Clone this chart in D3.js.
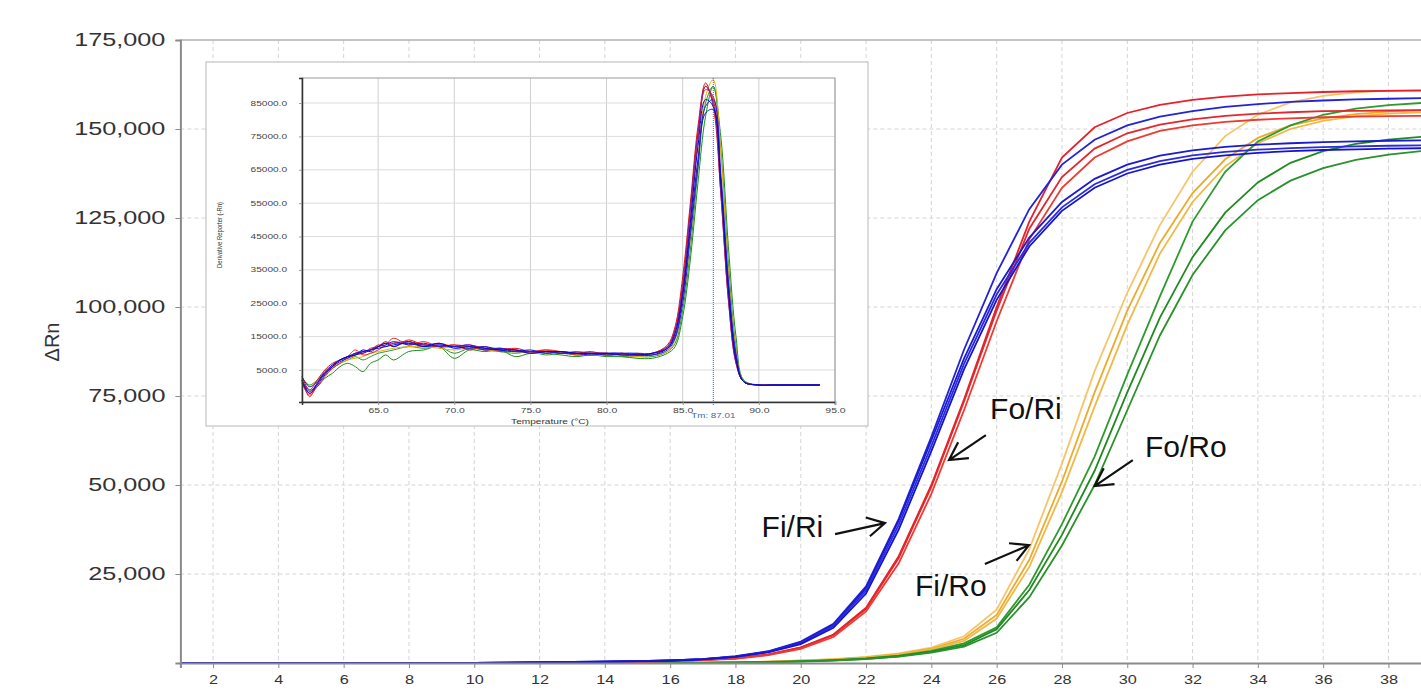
<!DOCTYPE html>
<html>
<head>
<meta charset="utf-8">
<script src="https://cdn.jsdelivr.net/npm/d3@7"></script>
<style>
  body { margin: 0; background: #fff; }
  svg { display: block; font-family: Arial, 'Liberation Sans', sans-serif; }
</style>
</head>
<body>
<div class="main-content"></div>
<script>
// amplification plot: cycle vs delta Rn
var cycles = d3.range(1, 41)
var fiRi1 = [0, 0, 0, 0, 0, 0, 0, 0, 0, 0, 100, 200, 300, 400, 500, 700, 1100, 1900, 3300, 6000,
  11000, 21500, 40500, 63500, 88000, 109500, 127500, 140000, 147000, 151000,
  153500, 155000, 156200, 157000, 157600, 158000, 158300, 158500, 158700, 158800]
var fiRi2 = [0, 0, 0, 0, 0, 0, 0, 0, 0, 0, 100, 200, 300, 400, 500, 700, 1100, 1800, 3200, 5800,
  10800, 21000, 40000, 62500, 85500, 105000, 119500, 129500, 136000, 140000,
  142500, 144000, 145000, 145600, 146000, 146300, 146500, 146700, 146800, 146900]
var fiRi3 = [0, 0, 0, 0, 0, 0, 0, 0, 0, 0, 100, 200, 300, 400, 500, 700, 1100, 1800, 3100, 5600,
  10400, 20300, 38800, 61000, 84000, 103500, 118000, 128000, 134500, 138500,
  141000, 142600, 143600, 144200, 144600, 144900, 145100, 145300, 145400, 145500]
var fiRi4 = [0, 0, 0, 0, 0, 0, 0, 0, 0, 0, 100, 150, 250, 350, 450, 650, 1000, 1700, 3000, 5300,
  9900, 19500, 37500, 59500, 82500, 102000, 117000, 127000, 133500, 137500,
  140000, 141600, 142600, 143300, 143800, 144100, 144300, 144500, 144600, 144700]
var foRi1 = [0, 0, 0, 0, 0, 0, 0, 0, 0, 0, 50, 100, 200, 300, 400, 550, 850, 1300, 2400, 4400,
  8000, 15500, 30000, 50000, 74000, 100000, 124000, 142000, 150500, 154500,
  156800, 158200, 159100, 159700, 160100, 160400, 160600, 160700, 160800, 160900]
var foRi2 = [0, 0, 0, 0, 0, 0, 0, 0, 0, 0, 50, 100, 200, 300, 400, 550, 850, 1300, 2300, 4300,
  7800, 15200, 29500, 49500, 73500, 99000, 122000, 136500, 144500, 148800,
  151200, 152700, 153700, 154300, 154700, 155000, 155100, 155200, 155300, 155400]
var foRi3 = [0, 0, 0, 0, 0, 0, 0, 0, 0, 0, 50, 100, 150, 250, 350, 500, 800, 1200, 2200, 4000,
  7300, 14500, 28000, 47500, 71000, 96000, 119000, 133500, 142000, 146500,
  149500, 151000, 152000, 152600, 153000, 153300, 153500, 153600, 153700, 153800]
var fiRo1 = [0, 0, 0, 0, 0, 0, 0, 0, 0, 0, 0, 0, 0, 0, 0, 50, 100, 200, 400, 700,
  1100, 1700, 2700, 4300, 7500, 15000, 32000, 56000, 82000, 104000,
  123000, 138000, 148000, 154000, 157500, 159300, 160300, 160800, 161000, 161200]
var fiRo2 = [0, 0, 0, 0, 0, 0, 0, 0, 0, 0, 0, 0, 0, 0, 0, 50, 100, 200, 350, 650,
  1000, 1600, 2500, 4000, 6800, 13500, 29000, 51000, 76000, 99000,
  118000, 132000, 141500, 147500, 151000, 153000, 154200, 154900, 155300, 155500]
var fiRo3 = [0, 0, 0, 0, 0, 0, 0, 0, 0, 0, 0, 0, 0, 0, 0, 50, 100, 150, 300, 600,
  950, 1500, 2400, 3800, 6200, 12500, 27000, 48000, 72000, 95000,
  115000, 129500, 139500, 146000, 150000, 152300, 153600, 154300, 154700, 155000]
var foRo1 = [0, 0, 0, 0, 0, 0, 0, 0, 0, 0, 0, 0, 0, 0, 0, 0, 100, 150, 300, 500,
  800, 1300, 2100, 3400, 5500, 10000, 22000, 39000, 58000, 81000,
  103000, 124000, 138000, 146500, 151000, 154000, 155700, 156700, 157300, 157700]
var foRo2 = [0, 0, 0, 0, 0, 0, 0, 0, 0, 0, 0, 0, 0, 0, 0, 0, 50, 100, 250, 450,
  750, 1200, 1900, 3100, 5000, 9500, 20500, 36000, 54000, 76000,
  97000, 114000, 126500, 135000, 140500, 143800, 145800, 147000, 147800, 148300]
var foRo3 = [0, 0, 0, 0, 0, 0, 0, 0, 0, 0, 0, 0, 0, 0, 0, 0, 50, 100, 200, 400,
  700, 1100, 1800, 2900, 4600, 8500, 18500, 33000, 50000, 71000,
  92000, 109000, 121500, 130000, 135500, 139000, 141300, 142800, 143800, 144500]
var ampSeries = [fiRo1, fiRo2, fiRo3, foRo1, foRo2, foRo3, foRi1, foRi2, foRi3, fiRi1, fiRi2, fiRi3, fiRi4]
var ampColors = ['#f7c46a', '#eeaa2a', '#f0b848', '#2e9a2e', '#1f8a1f', '#2a922a',
  '#e8202a', '#e0282e', '#ee3a30', '#2222d8', '#1a1ad0', '#2a2ae0', '#1515c8']
var yTicks = [25000, 50000, 75000, 100000, 125000, 150000, 175000]
var xTicks = [2, 4, 6, 8, 10, 12, 14, 16, 18, 20, 22, 24, 26, 28, 30, 32, 34, 36, 38]

// annotations (data coordinates)
var annoLabels = ['Fo/Ri', 'Fi/Ri', 'Fi/Ro', 'Fo/Ro']
var annoTextCycle = [25.8, 18.8, 23.5, 30.54]
var annoTextValue = [68600, 35400, 18800, 57900]
var arrowFromCycle = [25.67, 21.05, 25.64, 30.17]
var arrowFromValue = [64000, 36200, 27800, 57000]
var arrowToCycle = [24.54, 22.58, 26.99, 29.0]
var arrowToValue = [57000, 39300, 33100, 49700]

// inset: melt curve, derivative reporter (thousands) vs temperature
var temps = [60, 60.5, 61, 61.5, 62, 62.5, 63, 63.5, 64, 64.5, 65, 65.5,
  66, 67, 68, 69, 70, 71, 72, 73, 74, 75, 76, 77, 78, 79, 80, 81, 82, 83, 84,
  84.5, 85, 85.5, 86, 86.5, 87, 87.5, 88, 88.5, 89, 90, 91, 92, 93, 94]
var meltRed1 = [2, -3, 1, 4, 6, 8, 8.5, 9.5, 10, 11.5, 12, 13.5,
  12, 14, 12.5, 13, 12, 12.5, 11.5, 11, 11.5, 10.5, 10.5, 10, 10.5, 10, 10, 9.5, 10, 10, 12.5,
  18, 33, 55, 78, 91, 84, 58, 26, 7, 1.5, 0.5, 0.5, 0.5, 0.5, 0.5]
var meltRed2 = [3, -1, 2, 5, 7, 8, 9, 10, 10.5, 11, 12.5, 12,
  13, 13.5, 12.5, 12, 12.5, 12, 11, 11.5, 11, 10.5, 11, 10, 10, 10.5, 9.5, 10, 9.5, 10, 12,
  17, 31, 53, 76, 90, 86, 60, 28, 8, 1.5, 0.5, 0.5, 0.5, 0.5, 0.5]
var meltRed3 = [1, -2.5, 0, 3, 5.5, 7, 9, 11, 9.5, 10, 11, 12.5,
  14.5, 12.5, 13.5, 12, 12.5, 11, 12, 10.5, 11, 10, 11, 10.5, 9.5, 10, 10, 9.5, 9.5, 10, 11.5,
  16, 29, 50, 74, 89, 87, 62, 30, 9, 1.5, 0.5, 0.5, 0.5, 0.5, 0.5]
var meltBlue1 = [3, 0, 1.5, 4.5, 6.5, 8, 9, 9.5, 10.5, 11, 11.5, 12,
  12.5, 13, 12, 12.5, 12, 11.5, 12, 11, 10.5, 11, 10, 10.5, 10, 9.5, 10, 10, 9.5, 9.5, 11.5,
  15, 27, 47, 68, 82, 83, 62, 30, 9, 1.5, 0.5, 0.5, 0.5, 0.5, 0.5]
var meltBlue2 = [2, -1.5, 1, 4, 6, 7.5, 8.5, 10, 10, 11, 12, 12.5,
  13.5, 12.5, 13, 12, 12, 12.5, 11, 11.5, 10.5, 10.5, 10.5, 10, 10, 10, 9.5, 10, 10, 9.5, 11,
  14.5, 25, 45, 66, 84, 86, 64, 32, 10, 1.5, 0.5, 0.5, 0.5, 0.5, 0.5]
var meltBlue3 = [1.5, -2, 0.5, 3.5, 6, 8, 9, 9.5, 11, 10.5, 12, 13,
  12, 13.5, 12, 13, 11.5, 12, 11.5, 11, 11, 10, 10.5, 10.5, 10, 10, 10, 9.5, 9.5, 10, 11.5,
  16, 28, 49, 72, 86, 84, 61, 29, 8, 1.5, 0.5, 0.5, 0.5, 0.5, 0.5]
var meltGreen1 = [2, -1, 0, 2.5, 4, 6, 7, 6, 4.5, 7, 8, 9.5,
  8, 10.5, 11, 12, 8.5, 11, 10.5, 11, 9, 10, 10, 9.5, 9, 9.5, 9, 9, 8.5, 8.5, 10,
  12, 21, 38, 61, 81, 90, 75, 42, 15, 2, 0.5, 0.5, 0.5, 0.5, 0.5]
var meltGreen2 = [2.5, 0.5, 2, 4, 5.5, 7, 8, 9, 8, 9, 10, 10.5,
  11, 12, 11.5, 12, 10, 11.5, 11, 10.5, 10, 10.5, 9.5, 10, 9.5, 9.5, 9.5, 9, 9, 9, 10.5,
  13, 23, 41, 65, 85, 90, 71, 37, 12, 1.5, 0.5, 0.5, 0.5, 0.5, 0.5]
var meltOrange = [3, 0, 2, 4.5, 6, 7, 8, 8.5, 9, 10, 10.5, 11,
  11.5, 12, 12, 11.5, 11, 11.5, 11, 10.5, 10.5, 10, 10, 10, 10, 9.5, 9.5, 9.5, 9, 9.5, 10.5,
  14, 25, 44, 68, 87, 92, 70, 34, 11, 1.5, 0.5, 0.5, 0.5, 0.5, 0.5]
var meltPurple = [2, -2, 1, 4, 6.5, 8, 9, 10, 10.5, 11, 12, 13,
  13, 13, 12.5, 12.5, 12, 12, 11.5, 11.5, 11, 10.5, 10.5, 10.5, 10, 10, 10, 10, 9.5, 10, 12,
  17, 30, 53, 76, 90, 85, 58, 26, 7, 1.5, 0.5, 0.5, 0.5, 0.5, 0.5]
var meltSeries = [meltGreen1, meltGreen2, meltOrange, meltRed1, meltRed2, meltRed3, meltPurple, meltBlue1, meltBlue2, meltBlue3]
var meltColors = ['#1a8f1a', '#2a9a2a', '#e8b010', '#e01010', '#d81818', '#f02020', '#7a1fa0', '#1010e0', '#2020d0', '#0a0ac0']
var meltYTicks = [5, 15, 25, 35, 45, 55, 65, 75, 85]
var meltXTicks = [65, 70, 75, 80, 85, 90, 95]
var tmValue = 87.01

const svgWidth = 1421
const svgHeight = 692
const plotLeft = 180.4
const plotTop = 40
const plotBottom = 663
const cycleWidth = 32.65
const insetBox = { left: 206, top: 62, right: 868, bottom: 426 }
const insetPlot = { left: 302, top: 78, right: 835, bottom: 402 }

var svg = d3.select('.main-content')
  .append('svg')
  .attr('width', svgWidth)
  .attr('height', svgHeight)

var x = d3.scaleLinear().domain([1, 40]).range([plotLeft, plotLeft + 39 * cycleWidth])
var y = d3.scaleLinear().domain([0, 175000]).range([plotBottom, plotTop])

function stretchText(sel, factor) {
  sel.each(function() {
    var w = this.getComputedTextLength()
    d3.select(this).attr('textLength', w * factor).attr('lengthAdjust', 'spacingAndGlyphs')
  })
}

// grid
svg.append('g')
  .selectAll('line')
  .data(xTicks)
  .enter()
  .append('line')
  .attr('x1', function(d) { return x(d) })
  .attr('x2', function(d) { return x(d) })
  .attr('y1', plotTop)
  .attr('y2', plotBottom)
  .attr('stroke', '#d4d4d4')
  .attr('stroke-dasharray', '4,3')
svg.append('g')
  .selectAll('line')
  .data(yTicks.slice(0, -1))
  .enter()
  .append('line')
  .attr('x1', plotLeft)
  .attr('x2', svgWidth)
  .attr('y1', function(d) { return y(d) })
  .attr('y2', function(d) { return y(d) })
  .attr('stroke', '#d4d4d4')
  .attr('stroke-dasharray', '4,3')
svg.append('line')
  .attr('x1', plotLeft)
  .attr('x2', svgWidth)
  .attr('y1', y(175000))
  .attr('y2', y(175000))
  .attr('stroke', '#b0b0b0')
  .attr('stroke-width', 1.5)

// amplification curves
var ampLine = d3.line()
  .x(function(d, i) { return x(cycles[i]) })
  .y(function(d) { return y(d) })

svg.append('g')
  .selectAll('path')
  .data(ampSeries)
  .enter()
  .append('path')
  .attr('d', ampLine)
  .attr('fill', 'none')
  .attr('stroke', function(d, i) { return ampColors[i] })
  .attr('stroke-width', 1.8)

// axes
var yAxis = svg.append('g')
  .attr('transform', 'translate(' + plotLeft + ',0)')
  .call(d3.axisLeft(y).tickValues(yTicks).tickSize(5).tickPadding(10).tickFormat(d3.format(',')))
yAxis.select('.domain').attr('stroke', '#8a8a8a').attr('stroke-width', 2)
yAxis.selectAll('.tick line').attr('stroke', '#8a8a8a')
yAxis.selectAll('text')
  .attr('font-size', 18)
  .attr('fill', '#333')
  .call(stretchText, 1.4)

var xAxis = svg.append('g')
  .attr('transform', 'translate(0,' + plotBottom + ')')
  .call(d3.axisBottom(x).tickValues(xTicks).tickSize(5).tickPadding(7).tickFormat(d3.format('d')))
xAxis.select('.domain').attr('stroke', '#8a8a8a').attr('stroke-width', 2)
xAxis.selectAll('.tick line').attr('stroke', '#8a8a8a')
xAxis.selectAll('text')
  .attr('font-size', 13)
  .attr('fill', '#333')
  .call(stretchText, 1.25)

svg.append('text')
  .attr('transform', 'translate(59,342) rotate(-90)')
  .attr('text-anchor', 'middle')
  .attr('font-size', 20)
  .attr('fill', '#333')
  .text('ΔRn')

// inset melt curve
var inset = svg.append('g')
inset.append('rect')
  .attr('x', insetBox.left)
  .attr('y', insetBox.top)
  .attr('width', insetBox.right - insetBox.left)
  .attr('height', insetBox.bottom - insetBox.top)
  .attr('fill', '#fff')
  .attr('stroke', '#b8b8b8')

var mx = d3.scaleLinear().domain([60, 95]).range([insetPlot.left, insetPlot.right])
var my = d3.scaleLinear().domain([-4.6, 92.5]).range([insetPlot.bottom, insetPlot.top])

inset.append('g')
  .selectAll('line')
  .data(meltXTicks)
  .enter()
  .append('line')
  .attr('x1', function(d) { return mx(d) })
  .attr('x2', function(d) { return mx(d) })
  .attr('y1', insetPlot.top)
  .attr('y2', insetPlot.bottom)
  .attr('stroke', '#cfcfcf')
inset.append('g')
  .selectAll('line')
  .data(meltYTicks)
  .enter()
  .append('line')
  .attr('x1', insetPlot.left)
  .attr('x2', insetPlot.right)
  .attr('y1', function(d) { return my(d) })
  .attr('y2', function(d) { return my(d) })
  .attr('stroke', '#dcdcdc')
inset.append('rect')
  .attr('x', insetPlot.left)
  .attr('y', insetPlot.top)
  .attr('width', insetPlot.right - insetPlot.left)
  .attr('height', insetPlot.bottom - insetPlot.top)
  .attr('fill', 'none')
  .attr('stroke', '#9a9a9a')

var meltLine = d3.line()
  .x(function(d, i) { return mx(temps[i]) })
  .y(function(d) { return my(d) })
  .curve(d3.curveCatmullRom)

inset.append('g')
  .selectAll('path')
  .data(meltSeries)
  .enter()
  .append('path')
  .attr('d', meltLine)
  .attr('fill', 'none')
  .attr('stroke', function(d, i) { return meltColors[i] })
  .attr('stroke-width', 1)

inset.append('line')
  .attr('x1', mx(tmValue))
  .attr('x2', mx(tmValue))
  .attr('y1', insetPlot.top)
  .attr('y2', insetPlot.bottom + 4)
  .attr('stroke', '#3a6aa8')
  .attr('stroke-dasharray', '1,1')

var insetYAxis = inset.append('g')
  .attr('transform', 'translate(' + insetPlot.left + ',0)')
  .call(d3.axisLeft(my).tickValues(meltYTicks).tickSize(3).tickPadding(12)
    .tickFormat(function(d) { return (d * 1000).toFixed(1) }))
insetYAxis.select('.domain').attr('stroke', '#333').attr('stroke-width', 1.5)
insetYAxis.selectAll('.tick line').attr('stroke', '#999')
insetYAxis.selectAll('text')
  .attr('font-size', 6.5)
  .attr('fill', '#444')
  .call(stretchText, 1.55)

var insetXAxis = inset.append('g')
  .attr('transform', 'translate(0,' + insetPlot.bottom + ')')
  .call(d3.axisBottom(mx).tickValues(meltXTicks).tickSize(3).tickPadding(3)
    .tickFormat(function(d) { return d.toFixed(1) }))
insetXAxis.select('.domain').attr('stroke', '#333').attr('stroke-width', 1.5)
insetXAxis.selectAll('.tick line').attr('stroke', '#999')
insetXAxis.selectAll('text')
  .attr('font-size', 6.5)
  .attr('fill', '#444')
  .call(stretchText, 1.6)

inset.append('text')
  .attr('x', 550)
  .attr('y', 424)
  .attr('text-anchor', 'middle')
  .attr('font-size', 7.5)
  .attr('fill', '#333')
  .text('Temperature (°C)')
  .call(stretchText, 1.35)

inset.append('text')
  .attr('x', mx(tmValue))
  .attr('y', 418)
  .attr('text-anchor', 'middle')
  .attr('font-size', 7)
  .attr('fill', '#3a6aa8')
  .text('Tm: 87.01')
  .call(stretchText, 1.4)

inset.append('text')
  .attr('transform', 'translate(222,235) rotate(-90)')
  .attr('text-anchor', 'middle')
  .attr('font-size', 7)
  .attr('fill', '#333')
  .text('Derivative Reporter (-Rn)')
  .attr('textLength', 66)
  .attr('lengthAdjust', 'spacingAndGlyphs')

// annotations
var anno = svg.append('g')
anno.selectAll('text')
  .data(annoLabels)
  .enter()
  .append('text')
  .attr('x', function(d, i) { return x(annoTextCycle[i]) })
  .attr('y', function(d, i) { return y(annoTextValue[i]) })
  .attr('font-size', 30)
  .attr('fill', '#111')
  .text(function(d) { return d })

function arrowPath(d, i) {
  var x1 = x(arrowFromCycle[i])
  var y1 = y(arrowFromValue[i])
  var x2 = x(arrowToCycle[i])
  var y2 = y(arrowToValue[i])
  var ang = Math.atan2(y1 - y2, x1 - x2)
  var headLen = 20
  var spread = 0.5
  var ax = x2 + headLen * Math.cos(ang + spread)
  var ay = y2 + headLen * Math.sin(ang + spread)
  var bx = x2 + headLen * Math.cos(ang - spread)
  var by = y2 + headLen * Math.sin(ang - spread)
  return 'M' + x1 + ',' + y1 + 'L' + x2 + ',' + y2 + 'M' + ax + ',' + ay + 'L' + x2 + ',' + y2 + 'L' + bx + ',' + by
}

anno.selectAll('path')
  .data(annoLabels)
  .enter()
  .append('path')
  .attr('d', arrowPath)
  .attr('fill', 'none')
  .attr('stroke', '#111')
  .attr('stroke-width', 2.2)
</script>
</body>
</html>
